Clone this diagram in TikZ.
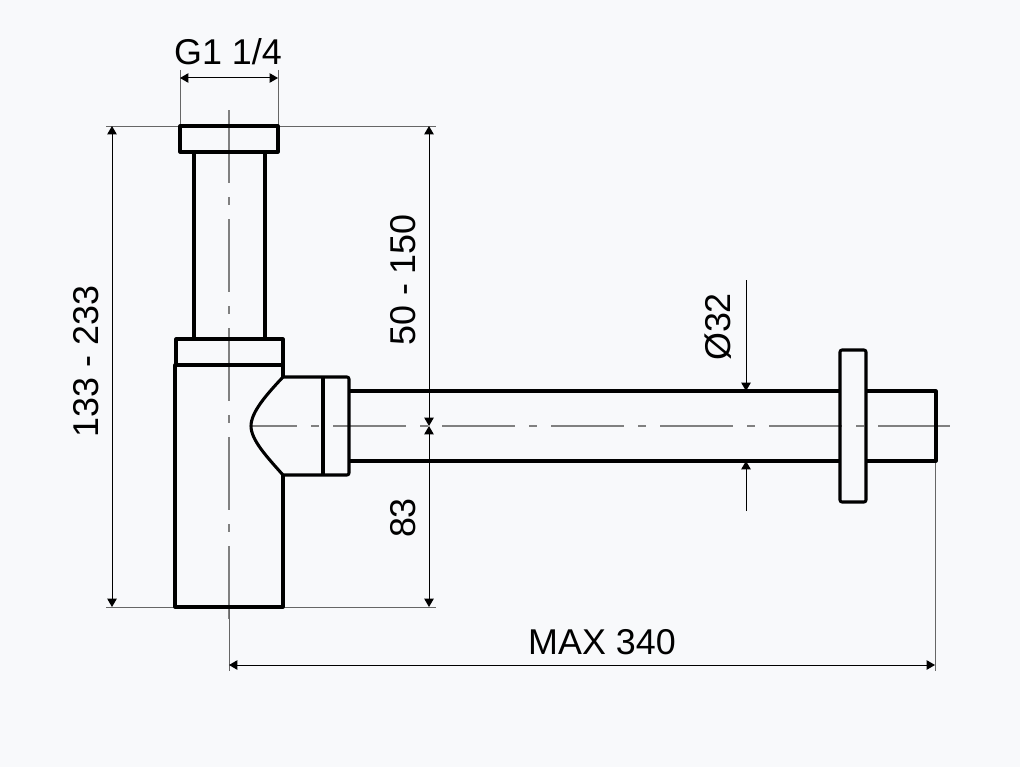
\documentclass[tikz,border=0pt]{standalone}
\usepackage{fontspec}
\setmainfont{Liberation Sans}
\usetikzlibrary{arrows.meta}
\definecolor{paperbg}{HTML}{F8F9FB}
\definecolor{axisgray}{HTML}{808080}
\definecolor{extgray}{HTML}{666666}
\begin{document}
\begin{tikzpicture}[
    x=0.75pt, y=-0.75pt,
    outline/.style={line width=2.3pt, black, line join=round},
    axis/.style={line width=1.1pt, axisgray, dash pattern=on 54.75pt off 10.5pt on 6pt off 10.5pt},
    extline/.style={line width=0.75pt, extgray},
    dimline/.style={line width=0.75pt, black, {Triangle[length=6.2pt,width=7pt]}-{Triangle[length=6.2pt,width=7pt]}},
    leader/.style={line width=0.75pt, black, -{Triangle[length=6.2pt,width=7pt]}},
    dimtext/.style={font=\fontsize{26.9}{30}\selectfont, inner sep=0pt, text=black}
  ]
    % Paper
    \fill[paperbg] (0,0) rectangle (1020,767);
    \useasboundingbox (0,0) rectangle (1020,767);

    % Reference points
    \coordinate (topL) at (106,126);
    \coordinate (topR) at (436,126);
    \coordinate (botL) at (106,607);
    \coordinate (botR) at (436,607);
    \coordinate (capL) at (180,70);
    \coordinate (capLb) at (180,126);
    \coordinate (capR) at (278,70);
    \coordinate (capRb) at (278,126);
    \coordinate (endT) at (935,461);
    \coordinate (endB) at (935,671);
    \coordinate (axisB) at (229,671);
    \coordinate (axisM) at (229,607);

    % Center lines
    \draw[axis] (229,110) -- (229,619);
    \draw[axis, dash phase=20.25pt] (251,426) -- (950,426);

    % Extension lines
    \draw[extline] (topL) -- (topR);
    \draw[extline] (botL) -- (axisM);
    \draw[extline] (axisM) -- (botR);
    \draw[extline] (capL) -- (capLb);
    \draw[extline] (capR) -- (capRb);
    \draw[extline] (endT) -- (endB);
    \draw[extline] (axisM) -- (axisB);

    % Riser
    \draw[outline] (180,126) rectangle (278,152);
    \draw[outline] (194,152) -- (194,339);
    \draw[outline] (265,152) -- (265,339);
    \draw[outline] (176,365) -- (176,339) -- (283,339) -- (283,377);
    % Body
    \draw[outline] (283,475) -- (283,607) -- (175,607) -- (175,365) -- (283,365);
    % Elbow
    \draw[outline] (283,377) .. controls (267,394) and (251,412) .. (251,426)
      .. controls (251,440) and (267,457) .. (283,475);
    \draw[outline, rounded corners=1.5pt] (283,377) -- (349,377) -- (349,475) -- (283,475);
    \draw[outline] (323,377) -- (323,475);
    % Pipe
    \draw[outline] (349,391) -- (840,391);
    \draw[outline] (349,461) -- (840,461);
    \draw[outline, rounded corners=1.5pt] (840,350) rectangle (866,502);
    \draw[outline] (866,391) -- (936,391) -- (936,461) -- (866,461);

    % Dimensions
    \coordinate (heightT) at (112,126);
    \coordinate (heightB) at (112,607);
    \coordinate (riseT) at (429,126);
    \coordinate (riseM) at (429,426);
    \coordinate (riseB) at (429,607);
    \coordinate (capA) at (180,78);
    \coordinate (capB) at (278,78);
    \coordinate (lenA) at (229,665);
    \coordinate (lenB) at (935,665);
    \coordinate (diaT) at (746,280);
    \coordinate (diaA) at (746,391);
    \coordinate (diaC) at (746,511);
    \coordinate (diaD) at (746,461);
    \draw[dimline] (heightT) -- (heightB);
    \draw[dimline] (riseT) -- (riseM);
    \draw[dimline] (riseM) -- (riseB);
    \draw[dimline] (capA) -- (capB);
    \draw[dimline] (lenA) -- (lenB);
    \draw[leader] (diaT) -- (diaA);
    \draw[leader] (diaC) -- (diaD);

    % Labels
    \node[dimtext] (capLabel) at (228,52) {G1 1/4};
    \node[dimtext, rotate=90] (heightLabel) at (86,361.5) {133 - 233};
    \node[dimtext, rotate=90] (riseLabel) at (403,280) {50 - 150};
    \node[dimtext, rotate=90] (dropLabel) at (403,518) {83};
    \node[dimtext, rotate=90] (diaLabel) at (718,327) {Ø32};
    \node[dimtext] (lenLabel) at (602,642) {MAX 340};
\end{tikzpicture}
\end{document}
